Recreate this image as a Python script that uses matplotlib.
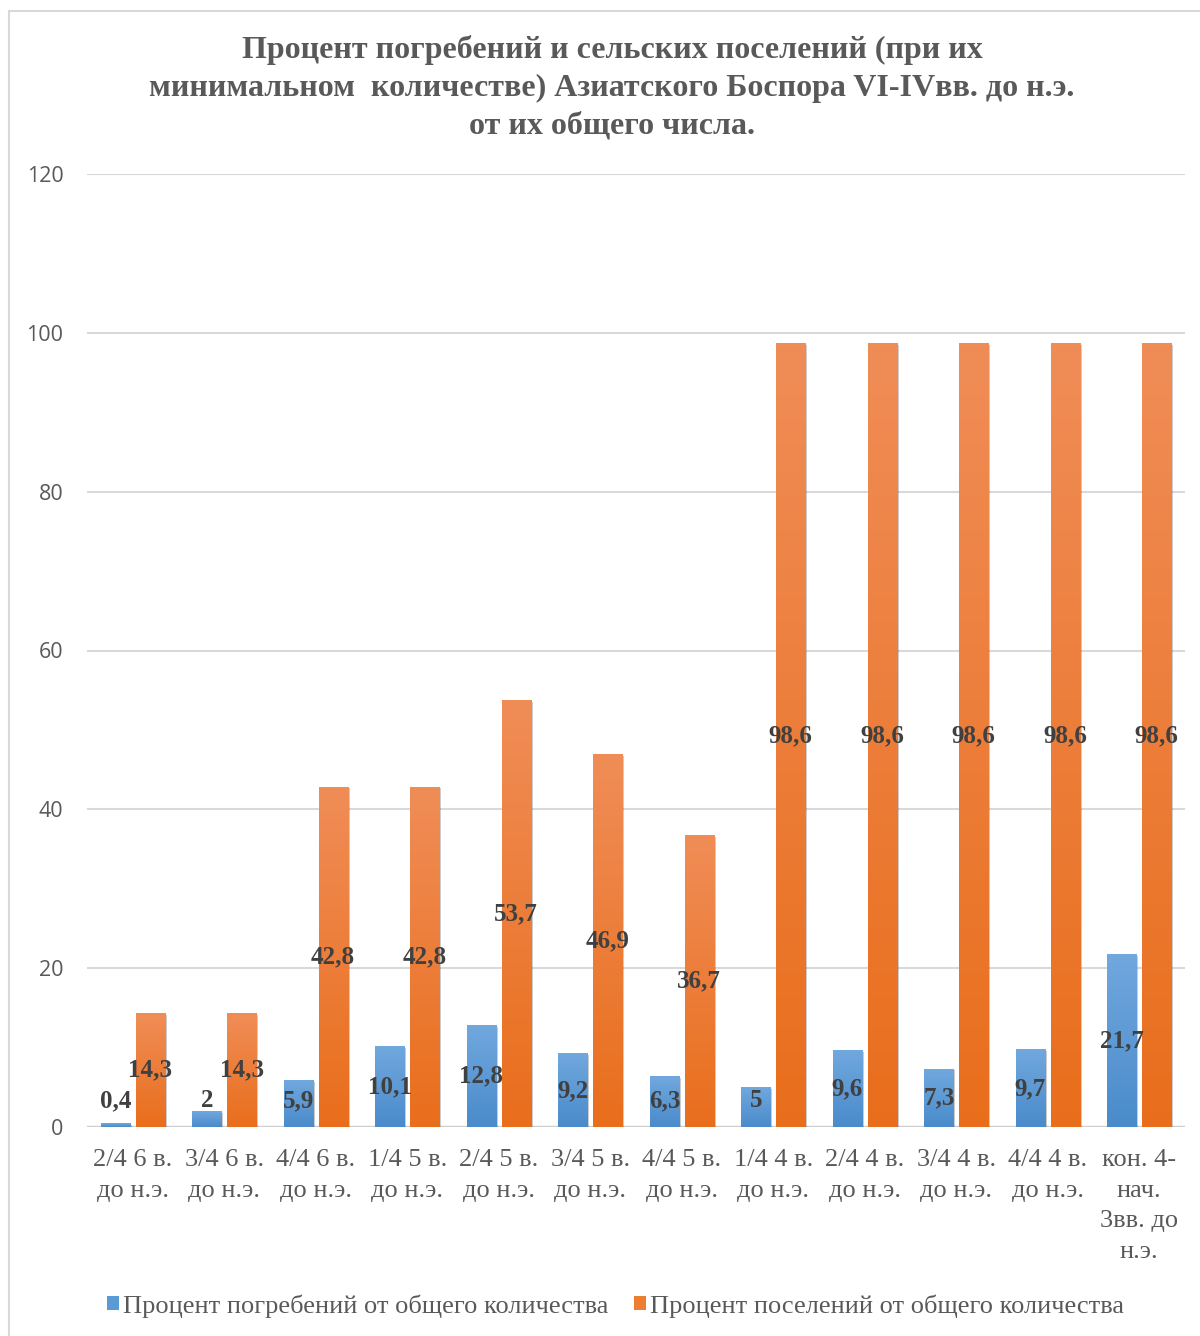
import numpy as np
import matplotlib
matplotlib.use("Agg")
import matplotlib.pyplot as plt
import matplotlib.patheffects as pe
from matplotlib.colors import LinearSegmentedColormap
from matplotlib.font_manager import FontProperties
from matplotlib.patches import Patch, Rectangle

categories = [
    "2/4 6 в.\nдо н.э.", "3/4 6 в.\nдо н.э.", "4/4 6 в.\nдо н.э.",
    "1/4 5 в.\nдо н.э.", "2/4 5 в.\nдо н.э.", "3/4 5 в.\nдо н.э.",
    "4/4 5 в.\nдо н.э.", "1/4 4 в.\nдо н.э.", "2/4 4 в.\nдо н.э.",
    "3/4 4 в.\nдо н.э.", "4/4 4 в.\nдо н.э.", "кон. 4-\nнач.\n3вв. до\nн.э.",
]
burials = [0.4, 2, 5.9, 10.1, 12.8, 9.2, 6.3, 5, 9.6, 7.3, 9.7, 21.7]
settlements = [14.3, 14.3, 42.8, 42.8, 53.7, 46.9, 36.7, 98.6, 98.6, 98.6, 98.6, 98.6]
series_names = ["Процент погребений от общего количества",
                "Процент поселений от общего количества"]
title = ("Процент погребений и сельских поселений (при их\n"
         "минимальном  количестве) Азиатского Боспора VI-IVвв. до н.э.\n"
         "от их общего числа.")

serif = "Liberation Serif"
grey = "#595959"

fig = plt.figure(figsize=(12, 13.36), dpi=100)
ax = fig.add_axes([87 / 1200, 209 / 1336, 1098 / 1200, 953 / 1336])

x = np.arange(len(categories))
width = 0.317
offset = 0.19

series = [
    (burials, -offset, "#4a8bcb", "#71a8de", "#5b9bd5"),
    (settlements, offset, "#e96e1c", "#f08d57", "#ed7d31"),
]

shadow = [pe.SimplePatchShadow(offset=(1.5, -1), shadow_rgbFace="#000000", alpha=0.2), pe.Normal()]
grad = np.linspace(0, 1, 256).reshape(-1, 1)

for values, off, c_bot, c_top, c_mid in series:
    cmap = LinearSegmentedColormap.from_list("g", [c_bot, c_top])
    bars = ax.bar(x + off, values, width, color=c_mid, zorder=2, path_effects=shadow)
    for bar in bars:
        x0 = bar.get_x()
        ax.imshow(grad, extent=[x0, x0 + bar.get_width(), 0, bar.get_height()],
                  aspect="auto", cmap=cmap, origin="lower", zorder=3)
    for xi, v in zip(x + off, values):
        ax.text(xi, max(v / 2, 3.3), f"{v:g}".replace(".", ","), ha="center", va="center",
                family=serif, fontweight="bold", fontsize=18, color="#404040", zorder=5)

ax.set_xlim(-0.5, len(categories) - 0.5)
ax.set_ylim(0, 120)
ax.set_yticks(range(0, 121, 20))
ax.yaxis.grid(True, color="#d9d9d9", linewidth=1.5)
ax.set_axisbelow(True)
ax.axhline(0, color="#d0d0d0", linewidth=2.5, zorder=1)
for s in ax.spines.values():
    s.set_visible(False)
ax.tick_params(axis="both", length=0)
ax.tick_params(axis="y", pad=17, labelsize=15.5, labelcolor=grey)
for lab in ax.get_yticklabels():
    lab.set_family("Open Sans")
ax.set_xticks(x)
ax.set_xticklabels(categories, family=serif, fontsize=19, color=grey, linespacing=1.5)
ax.tick_params(axis="x", pad=16)

fig.text(0.51, 1 - 88 / 1336, title, ha="center", va="center", family=serif,
         fontweight="bold", fontsize=23, color=grey, linespacing=1.4)

handles = [Patch(facecolor="#5b9bd5"), Patch(facecolor="#ed7d31")]
leg = fig.legend(handles, series_names, loc="center", bbox_to_anchor=(0.513, 1 - 1306 / 1336),
                 ncol=2, frameon=False, prop=FontProperties(family=serif, size=19),
                 handlelength=0.45, handleheight=0.45, handletextpad=0.15, columnspacing=1.0)
for t in leg.get_texts():
    t.set_color(grey)
    t.set_family(serif)

fig.patches.append(Rectangle((9 / 1200, -0.1), 1.2, 1.1 - 11 / 1336, transform=fig.transFigure,
                             fill=False, edgecolor="#d9d9d9", linewidth=1.5, clip_on=False))

fig.savefig("out.png", dpi=100)
